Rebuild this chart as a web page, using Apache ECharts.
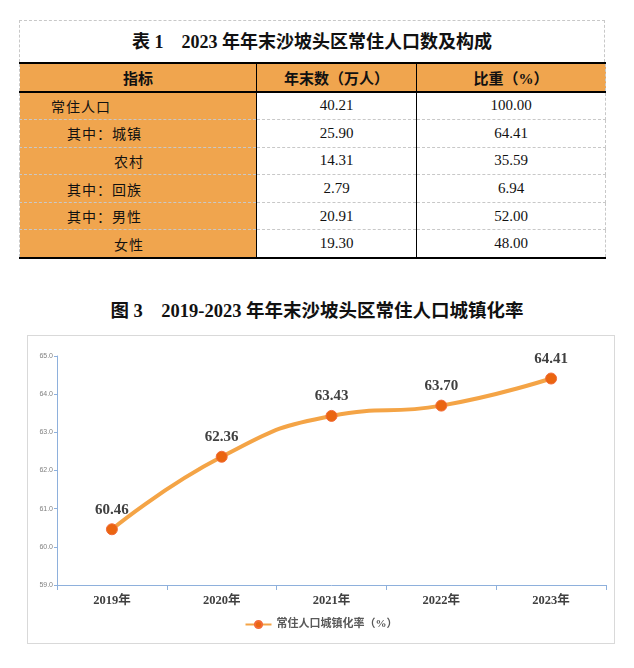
<!DOCTYPE html>
<html>
<head>
<meta charset="utf-8">
<script src="https://cdn.jsdelivr.net/npm/echarts@6/dist/echarts.min.js"></script>
<style>
  html, body { margin: 0; padding: 0; background: #fff; }
  body { width: 634px; height: 668px; position: relative; overflow: hidden; }
  .serif { font-family: "Liberation Serif", "Noto Sans CJK SC", serif; }
  #tblTitle {
    position: absolute; left: 19px; top: 20px; width: 586px; height: 42px;
    box-sizing: border-box; border: 1px dashed #c8c8c8; border-bottom: none;
    text-align: center; line-height: 42px; font-size: 18px; font-weight: bold; color: #111;
  }
  #tbl {
    position: absolute; left: 19px; top: 62px; width: 586px;
    border-collapse: collapse; table-layout: fixed;
    font-size: 15px; color: #111;
  }
  #tbl td, #tbl th { padding: 0; border-left: 1px solid #000; border-right: 1px solid #000; }
  #tbl th { background: #f0a54e; font-weight: bold; height: 26.5px; font-size: 15px;
    border-top: 2px solid #000; border-bottom: 2px solid #000; }
  #tbl td { height: 26.6px; border-bottom: 1px dashed #c8c8c8; text-align: center; }
  #tbl td.lbl { background: #f0a54e; text-align: left; letter-spacing: 1px; font-size: 14px;
    font-family: "Noto Sans CJK SC", sans-serif; }
  #tbl tr:last-child td { border-bottom: 2px solid #000; }
  #tbl tr td:first-child, #tbl tr th:first-child { border-left: 1px dashed #c8c8c8; }
  #tbl tr td:last-child, #tbl tr th:last-child { border-right: 1px dashed #c8c8c8; }
  #chartTitle {
    position: absolute; left: 0; top: 296px; width: 634px; text-align: center;
    font-size: 18.5px; font-weight: bold; color: #111;
  }
  #chart {
    position: absolute; left: 27px; top: 335px; width: 588px; height: 309px;
    box-sizing: border-box; border: 1px solid #d9d9d9;
  }
</style>
</head>
<body>
<div id="tblTitle" class="serif">表 1　2023 年年末沙坡头区常住人口数及构成</div>
<table id="tbl" class="serif">
  <colgroup><col style="width:237px"><col style="width:160px"><col style="width:189px"></colgroup>
  <thead><tr id="headRow"></tr></thead>
  <tbody id="tbody"></tbody>
</table>
<div id="chartTitle" class="serif">图 3　2019-2023 年年末沙坡头区常住人口城镇化率</div>
<div id="chart"></div>
<script>
// 表 1 数据
const tableHeaders = ['指标', '年末数（万人）', '比重（%）'];
const rowLabels = ['常住人口', '其中：城镇', '农村', '其中：回族', '其中：男性', '女性'];
const rowCounts = ['40.21', '25.90', '14.31', '2.79', '20.91', '19.30'];
const rowShares = ['100.00', '64.41', '35.59', '6.94', '52.00', '48.00'];
const rowIndent = [31, 47, 94, 47, 47, 94];

// 图 3 数据
const years = ['2019年', '2020年', '2021年', '2022年', '2023年'];
const urbanRate = [60.46, 62.36, 63.43, 63.70, 64.41];
const seriesName = '常住人口城镇化率（%）';

// 构建表格
const headRow = document.getElementById('headRow');
tableHeaders.forEach(h => {
  const th = document.createElement('th');
  th.textContent = h;
  headRow.appendChild(th);
});
const tbody = document.getElementById('tbody');
rowLabels.forEach((label, i) => {
  const tr = document.createElement('tr');
  const c1 = document.createElement('td');
  c1.className = 'lbl';
  c1.style.paddingLeft = rowIndent[i] + 'px';
  c1.textContent = label;
  const c2 = document.createElement('td');
  c2.textContent = rowCounts[i];
  const c3 = document.createElement('td');
  c3.textContent = rowShares[i];
  tr.appendChild(c1); tr.appendChild(c2); tr.appendChild(c3);
  tbody.appendChild(tr);
});

// 折线图
const serif = '"Liberation Serif", "Noto Sans CJK SC", serif';
const chart = echarts.init(document.getElementById('chart'));
chart.setOption({
  animation: false,
  grid: { left: 29, right: 8, top: 20, bottom: 58 },
  legend: {
    bottom: 8,
    left: 'center',
    itemWidth: 26,
    itemHeight: 9,
    itemGap: 6,
    textStyle: { color: '#595959', fontSize: 11, fontWeight: 'bold', fontFamily: serif }
  },
  xAxis: {
    type: 'category',
    data: years,
    boundaryGap: true,
    axisLine: { lineStyle: { color: '#8eb0dc', width: 1 } },
    axisTick: { show: true, length: 5, lineStyle: { color: '#8eb0dc' } },
    axisLabel: { color: '#404040', fontSize: 12.5, fontWeight: 'bold', fontFamily: serif, margin: 10 }
  },
  yAxis: {
    type: 'value',
    min: 59,
    max: 65,
    interval: 1,
    axisLine: { show: true, lineStyle: { color: '#8eb0dc', width: 1 } },
    axisTick: { show: true, length: 3, lineStyle: { color: '#8eb0dc' } },
    splitLine: { show: false },
    axisLabel: {
      color: '#808080', fontSize: 7, margin: 4,
      fontFamily: '"Liberation Sans", sans-serif',
      formatter: v => v.toFixed(1)
    }
  },
  series: [{
    name: seriesName,
    type: 'line',
    data: urbanRate,
    smooth: 0.5,
    symbol: 'circle',
    symbolSize: 11,
    lineStyle: { color: '#f4a446', width: 4 },
    itemStyle: { color: '#ea6510', borderColor: '#f26b3a', borderWidth: 1 },
    label: {
      show: true,
      position: 'top',
      distance: 6,
      color: '#404040',
      fontSize: 15,
      fontWeight: 'bold',
      fontFamily: serif,
      formatter: p => p.value.toFixed(2)
    }
  }]
});
</script>
</body>
</html>
